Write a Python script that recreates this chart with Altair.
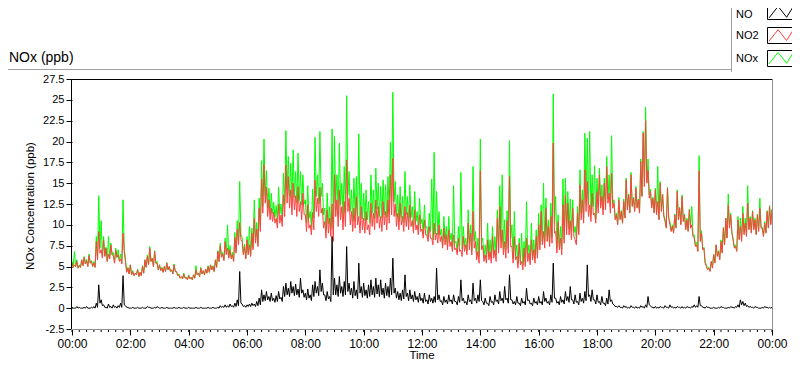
import altair as alt
import pandas as pd

# ------------- data: 5-minute readings (upper edge of the noisy band) -------------
# plus the lower edge of the band read 2.5 minutes later
minutes = list(range(0, 1441, 5))

no2_hi = [
    5.5, 5.2, 5.6, 5.1, 5.8, 6.1, 5.7, 6.3, 5.6, 5.4, 8.0, 9.2,
    7.0, 8.2, 7.2, 6.5, 7.6, 6.3, 7.0, 6.4, 5.9, 9.0, 5.5, 4.8,
    5.2, 4.4, 4.2, 4.6, 4.3, 5.0, 5.8, 6.2, 7.2, 6.0, 6.8, 5.4,
    5.2, 4.8, 5.0, 5.4, 5.0, 4.6, 5.2, 4.4, 4.0, 3.8, 4.1, 3.7,
    3.9, 3.7, 4.0, 4.6, 4.2, 4.8, 4.5, 4.7, 5.0, 5.2, 5.0, 5.8,
    6.8, 7.5, 6.5, 8.0, 7.2, 7.0, 6.4, 8.5, 9.5, 10.3, 8.0, 7.4,
    8.2, 7.6, 9.0, 10.8, 9.5, 12.0, 15.5, 17.2, 14.5, 13.0, 12.0, 11.5,
    10.8, 12.5, 11.2, 13.6, 17.2, 15.8, 14.2, 15.0, 13.5, 14.6, 12.8, 13.8,
    11.2, 12.4, 10.0, 11.5, 15.4, 13.2, 14.5, 12.0, 10.4, 11.8, 10.8, 12.5,
    16.0, 13.0, 14.2, 12.2, 12.8, 17.8, 13.2, 11.6, 12.0, 13.4, 11.0, 12.2,
    10.8, 11.6, 10.0, 12.6, 11.4, 13.0, 12.2, 11.0, 12.8, 11.6, 13.0, 16.0,
    18.0, 12.5, 11.4, 12.6, 11.0, 12.2, 11.5, 12.4, 10.5, 11.8, 10.0, 11.2,
    9.5, 10.6, 8.8, 9.8, 8.4, 10.2, 9.0, 10.0, 8.6, 9.6, 8.8, 9.4,
    8.0, 8.8, 7.2, 8.4, 7.0, 8.6, 7.6, 10.2, 9.0, 11.6, 8.0, 6.8,
    16.5, 7.5, 6.4, 8.2, 6.8, 8.6, 7.0, 10.8, 12.2, 9.4, 8.0, 10.5,
    15.8, 7.4, 8.6, 6.2, 7.8, 5.6, 7.2, 8.4, 6.6, 8.2, 7.0, 8.6,
    10.0, 11.6, 9.2, 12.0, 9.8, 11.0, 19.8, 9.2, 10.4, 8.4, 12.4, 13.6,
    12.6, 10.5, 12.0, 8.2, 11.4, 14.8, 13.0, 16.6, 15.2, 12.4, 13.8, 11.4,
    14.0, 16.0, 13.4, 15.0, 17.0, 13.8, 16.2, 12.6, 11.2, 13.0, 11.6, 12.8,
    15.4, 13.6, 16.0, 13.2, 14.4, 13.0, 17.6, 21.0, 22.5, 16.5, 14.0, 13.2,
    14.2, 12.8, 15.0, 13.6, 10.4, 14.4, 10.0, 9.8, 11.2, 14.0, 12.0, 13.4,
    11.2, 10.6, 11.8, 10.0, 8.4, 7.6, 16.5, 9.0, 7.2, 5.0, 4.8, 5.6,
    6.4, 7.6, 6.8, 8.0, 9.6, 10.8, 12.4, 11.2, 8.2, 7.4, 10.6, 9.8,
    11.4, 10.2, 12.6, 10.8, 11.6, 10.6, 11.2, 12.0, 9.6, 10.2, 11.6, 12.2,
    11.8,
]
no2_lo = [
    4.9, 5.0, 4.8, 4.9, 5.1, 5.3, 5.0, 5.4, 5.0, 4.9, 5.8, 6.6,
    6.0, 6.2, 5.6, 5.9, 6.4, 5.4, 6.1, 5.6, 5.3, 6.8, 4.3, 4.1,
    4.0, 3.9, 4.0, 3.8, 3.9, 4.2, 4.9, 5.2, 5.6, 5.0, 5.4, 4.6,
    4.5, 4.3, 4.4, 4.6, 4.4, 4.1, 4.4, 3.9, 3.6, 3.5, 3.6, 3.4,
    3.5, 3.4, 3.6, 4.0, 3.8, 4.1, 4.0, 4.2, 4.3, 4.6, 4.4, 4.9,
    5.6, 6.1, 5.7, 6.4, 6.0, 5.9, 5.6, 6.6, 7.6, 8.2, 6.4, 5.9,
    6.4, 6.2, 7.0, 7.8, 7.4, 9.2, 11.4, 12.6, 11.0, 10.6, 10.4, 10.2,
    9.6, 10.2, 9.8, 11.0, 12.6, 12.0, 11.2, 11.8, 11.0, 11.6, 10.6, 11.2,
    9.2, 9.6, 8.8, 9.4, 11.6, 11.0, 11.4, 9.6, 8.4, 9.0, 8.6, 8.0,
    11.0, 9.8, 10.6, 9.4, 9.8, 11.6, 10.0, 9.2, 9.6, 10.0, 9.0, 9.4,
    9.0, 9.4, 8.8, 9.8, 9.4, 10.2, 9.6, 9.2, 10.0, 9.4, 10.2, 11.2,
    11.0, 9.8, 9.4, 10.0, 9.2, 9.8, 9.4, 9.8, 9.0, 9.4, 8.8, 9.2,
    8.4, 8.8, 8.0, 8.4, 7.6, 8.2, 7.8, 8.0, 7.2, 7.6, 7.0, 7.4,
    6.8, 7.0, 6.4, 6.8, 6.2, 6.8, 6.4, 7.0, 6.4, 7.2, 5.8, 5.4,
    7.0, 5.6, 5.4, 5.8, 5.4, 6.0, 5.6, 6.6, 7.2, 6.4, 6.0, 6.6,
    7.4, 5.4, 5.8, 4.8, 5.2, 4.6, 5.0, 5.6, 5.2, 5.8, 5.4, 6.0,
    7.0, 7.6, 7.2, 8.0, 7.4, 7.8, 9.0, 6.6, 7.0, 6.4, 7.8, 8.8,
    8.8, 8.2, 8.6, 7.6, 8.8, 10.6, 10.2, 11.6, 11.0, 10.4, 11.2, 10.2,
    11.4, 12.0, 11.2, 11.8, 12.6, 11.4, 12.0, 10.6, 10.0, 10.6, 10.2, 10.8,
    11.8, 11.4, 12.2, 11.6, 12.0, 11.4, 13.4, 14.6, 15.0, 13.2, 12.0, 11.4,
    11.2, 10.6, 11.6, 11.0, 9.6, 10.8, 9.2, 9.0, 9.6, 10.6, 10.0, 10.4,
    9.4, 9.2, 9.6, 8.6, 7.4, 6.8, 8.0, 7.0, 5.4, 4.6, 4.4, 4.8,
    5.4, 6.2, 5.8, 6.6, 7.6, 8.4, 9.6, 9.0, 7.2, 6.8, 8.2, 8.0,
    8.8, 8.6, 9.4, 9.0, 9.4, 8.8, 9.2, 9.6, 8.6, 9.0, 9.6, 10.0,
]

no_hi = [
    0.1, 0.0, 0.2, 0.1, 0.0, 0.1, 0.2, 0.0, 0.1, 0.2, 0.6, 2.8,
    1.0, 0.4, 0.1, 0.5, 0.2, 0.4, 0.2, 0.3, 0.6, 3.9, 0.3, 0.1,
    0.0, 0.1, 0.0, 0.1, 0.0, 0.1, 0.0, 0.2, 0.1, 0.0, 0.1, 0.2,
    0.0, 0.1, 0.0, 0.1, 0.0, 0.0, 0.1, 0.0, 0.1, 0.0, 0.1, 0.0,
    0.1, 0.0, 0.0, 0.1, 0.0, 0.1, 0.0, 0.0, 0.1, 0.0, 0.1, 0.0,
    0.1, 0.3, 0.2, 0.4, 0.3, 0.5, 0.3, 0.6, 1.0, 4.4, 0.5, 0.3,
    0.4, 0.5, 0.6, 0.5, 0.8, 1.2, 2.2, 1.6, 2.0, 1.4, 1.8, 1.2,
    1.5, 2.0, 1.3, 2.6, 3.0, 2.4, 3.2, 2.6, 2.9, 2.3, 3.6, 2.2,
    1.8, 2.3, 1.6, 2.8, 3.2, 2.6, 4.6, 3.0, 1.6, 2.0, 1.4, 8.6,
    3.6, 2.8, 3.8, 2.6, 3.2, 7.4, 3.0, 2.4, 3.2, 2.2, 5.4, 2.6,
    3.0, 2.2, 2.8, 3.4, 2.6, 3.6, 2.8, 3.4, 2.4, 3.0, 2.6, 3.6,
    6.0, 2.4, 2.0, 1.8, 2.2, 4.0, 1.8, 2.2, 1.6, 2.0, 1.4, 1.8,
    1.2, 1.8, 1.0, 1.6, 1.2, 1.4, 4.8, 1.6, 0.9, 1.4, 1.0, 1.6,
    1.0, 1.6, 0.8, 1.4, 3.4, 1.2, 0.8, 1.6, 1.0, 3.0, 1.2, 1.6,
    3.4, 0.8, 1.2, 0.6, 1.4, 0.8, 1.6, 1.0, 2.0, 1.2, 2.6, 1.2,
    4.0, 1.0, 0.8, 1.4, 0.6, 1.2, 0.8, 2.4, 1.0, 0.6, 1.2, 0.8,
    1.4, 0.8, 2.0, 1.2, 0.8, 1.6, 5.4, 1.2, 0.8, 1.4, 1.0, 2.0,
    1.4, 2.6, 1.0, 1.6, 0.8, 1.8, 1.2, 2.0, 5.2, 1.6, 2.2, 1.0,
    1.6, 0.8, 1.4, 0.6, 1.2, 2.2, 1.0, 0.4, 0.2, 0.3, 0.1, 0.3,
    0.2, 0.1, 0.3, 0.1, 0.2, 0.1, 0.3, 0.2, 0.4, 1.4, 0.3, 0.1,
    0.2, 0.1, 0.2, 0.1, 0.3, 0.1, 0.4, 0.2, 0.1, 0.2, 0.1, 0.2,
    0.1, 0.2, 0.1, 0.2, 0.4, 0.3, 1.4, 0.3, 0.1, 0.2, 0.1, 0.0,
    0.1, 0.0, 0.1, 0.2, 0.1, 0.0, 0.1, 0.2, 0.1, 0.2, 0.4, 1.0,
    0.8, 0.6, 0.3, 0.2, 0.1, 0.2, 0.1, 0.0, 0.1, 0.2, 0.1, 0.1,
    0.1,
]
no_lo = [
    0.0, 0.0, 0.0, 0.0, 0.0, 0.0, 0.0, 0.0, 0.0, 0.0, 0.1, 0.6,
    0.3, 0.1, 0.0, 0.1, 0.0, 0.1, 0.0, 0.1, 0.1, 0.4, 0.1, 0.0,
    0.0, 0.0, 0.0, 0.0, 0.0, 0.0, 0.0, 0.1, 0.0, 0.0, 0.0, 0.1,
    0.0, 0.0, 0.0, 0.0, 0.0, 0.0, 0.0, 0.0, 0.0, 0.0, 0.0, 0.0,
    0.0, 0.0, 0.0, 0.0, 0.0, 0.0, 0.0, 0.0, 0.0, 0.0, 0.0, 0.0,
    0.0, 0.1, 0.1, 0.1, 0.1, 0.2, 0.1, 0.2, 0.3, 0.6, 0.2, 0.1,
    0.2, 0.2, 0.3, 0.2, 0.3, 0.4, 0.8, 0.9, 1.0, 0.8, 0.9, 0.7,
    0.8, 1.1, 0.8, 1.4, 1.6, 1.4, 1.8, 1.5, 1.6, 1.3, 1.8, 1.3,
    1.0, 1.2, 0.9, 1.4, 1.8, 1.5, 2.0, 1.6, 0.9, 1.1, 0.8, 1.6,
    1.6, 1.4, 1.8, 1.4, 1.6, 2.0, 1.6, 1.2, 1.5, 1.1, 1.8, 1.3,
    1.5, 1.2, 1.4, 1.6, 1.3, 1.7, 1.4, 1.6, 1.2, 1.5, 1.3, 1.6,
    1.8, 1.2, 1.0, 0.9, 1.1, 1.4, 0.9, 1.1, 0.8, 1.0, 0.7, 0.9,
    0.6, 0.8, 0.5, 0.8, 0.6, 0.7, 1.0, 0.8, 0.4, 0.7, 0.5, 0.8,
    0.5, 0.8, 0.4, 0.7, 0.9, 0.6, 0.4, 0.8, 0.5, 0.9, 0.6, 0.8,
    0.9, 0.4, 0.6, 0.3, 0.7, 0.4, 0.8, 0.5, 0.9, 0.6, 1.0, 0.6,
    1.0, 0.5, 0.4, 0.6, 0.3, 0.6, 0.4, 0.9, 0.5, 0.3, 0.6, 0.4,
    0.6, 0.4, 0.8, 0.6, 0.4, 0.7, 1.2, 0.6, 0.4, 0.7, 0.5, 0.9,
    0.7, 1.0, 0.5, 0.7, 0.4, 0.8, 0.6, 0.9, 1.4, 0.8, 1.0, 0.5,
    0.7, 0.4, 0.6, 0.3, 0.5, 0.8, 0.5, 0.2, 0.1, 0.1, 0.0, 0.1,
    0.0, 0.0, 0.1, 0.0, 0.0, 0.0, 0.1, 0.0, 0.1, 0.4, 0.1, 0.0,
    0.0, 0.0, 0.1, 0.0, 0.1, 0.0, 0.1, 0.0, 0.0, 0.1, 0.0, 0.0,
    0.0, 0.1, 0.0, 0.1, 0.1, 0.1, 0.3, 0.1, 0.0, 0.1, 0.0, 0.0,
    0.0, 0.0, 0.0, 0.1, 0.0, 0.0, 0.0, 0.1, 0.0, 0.1, 0.1, 0.4,
    0.3, 0.2, 0.1, 0.1, 0.0, 0.1, 0.0, 0.0, 0.0, 0.1, 0.0, 0.0,
]

nox_hi = [
    5.6, 6.8, 5.8, 5.2, 5.8, 6.2, 5.9, 6.5, 5.7, 5.6, 8.6, 13.5,
    10.5, 8.6, 7.3, 8.6, 7.8, 6.7, 7.2, 7.0, 6.5, 13.0, 5.8, 4.9,
    5.2, 4.5, 4.2, 4.7, 4.3, 5.1, 5.8, 6.4, 7.4, 6.0, 6.9, 5.6,
    5.2, 4.9, 5.0, 5.5, 5.0, 4.6, 5.3, 4.4, 4.1, 3.8, 4.2, 3.7,
    4.0, 3.7, 4.0, 5.1, 4.2, 4.9, 4.5, 4.7, 5.1, 5.2, 5.1, 5.8,
    6.9, 7.8, 6.7, 8.4, 10.0, 7.5, 6.7, 9.1, 10.5, 15.2, 8.5, 7.7,
    8.6, 9.8, 9.6, 13.0, 10.3, 13.2, 17.7, 20.3, 16.5, 14.4, 13.8, 12.7,
    12.3, 14.5, 12.5, 16.2, 21.3, 18.2, 17.4, 19.0, 16.4, 18.6, 16.4, 16.0,
    13.0, 14.7, 11.6, 14.3, 20.5, 16.0, 21.2, 15.0, 12.0, 13.8, 12.2, 21.5,
    20.6, 16.0, 19.8, 15.0, 17.0, 25.5, 16.4, 14.2, 15.6, 15.8, 20.9, 15.0,
    13.8, 14.2, 12.8, 16.0, 14.2, 16.8, 15.0, 14.6, 15.4, 14.8, 15.8, 19.9,
    25.9, 15.2, 13.6, 14.6, 13.4, 16.4, 13.4, 14.8, 12.2, 14.0, 11.6, 13.2,
    10.7, 12.4, 9.8, 11.4, 15.5, 18.7, 14.0, 11.6, 9.5, 11.0, 9.8, 11.0,
    9.0, 14.7, 8.0, 9.8, 16.3, 9.8, 8.4, 11.8, 10.0, 17.0, 9.2, 8.4,
    20.3, 8.4, 7.6, 10.2, 8.2, 9.8, 8.6, 11.8, 14.7, 16.0, 10.6, 11.7,
    20.1, 10.0, 11.6, 7.6, 8.4, 9.0, 8.0, 12.8, 7.6, 10.2, 8.2, 9.4,
    11.4, 12.4, 15.0, 13.2, 10.6, 12.6, 25.7, 13.4, 11.2, 9.8, 15.5, 15.6,
    14.0, 13.1, 13.0, 9.8, 12.2, 16.6, 14.2, 21.0, 20.4, 21.2, 16.0, 17.1,
    15.6, 16.8, 14.8, 15.6, 18.2, 16.0, 20.7, 13.0, 11.4, 13.3, 11.7, 13.1,
    15.6, 13.7, 16.3, 13.3, 14.6, 13.1, 17.9, 21.2, 24.1, 17.9, 14.3, 13.3,
    14.4, 17.0, 15.2, 13.7, 10.7, 14.5, 10.4, 10.0, 11.3, 14.2, 12.1, 13.6,
    11.3, 10.8, 11.9, 12.2, 8.8, 7.9, 18.3, 9.3, 7.3, 5.2, 4.9, 5.6,
    6.5, 7.6, 6.9, 8.2, 9.7, 10.8, 13.7, 11.4, 8.3, 7.6, 11.0, 10.8,
    12.2, 10.8, 14.7, 11.0, 11.7, 10.8, 11.3, 13.2, 9.7, 10.4, 11.7, 12.3,
    11.9,
]
nox_lo = [
    4.9, 5.0, 4.8, 4.9, 5.1, 5.3, 5.0, 5.4, 5.0, 4.9, 5.9, 7.2,
    6.3, 6.3, 5.6, 6.0, 6.4, 5.5, 6.1, 5.7, 5.4, 7.2, 4.4, 4.1,
    4.0, 3.9, 4.0, 3.8, 3.9, 4.2, 4.9, 5.2, 5.6, 5.0, 5.4, 4.6,
    4.5, 4.3, 4.4, 4.6, 4.4, 4.1, 4.4, 3.9, 3.6, 3.5, 3.6, 3.4,
    3.5, 3.4, 3.6, 4.0, 3.8, 4.1, 4.0, 4.2, 4.3, 4.6, 4.4, 4.9,
    5.6, 6.2, 5.8, 6.5, 6.1, 6.1, 5.7, 6.8, 7.9, 8.8, 6.6, 6.0,
    6.6, 6.4, 7.3, 8.0, 7.7, 9.6, 12.2, 13.5, 12.0, 11.4, 11.3, 10.9,
    10.4, 11.3, 10.6, 12.4, 14.2, 13.4, 13.0, 13.3, 12.6, 12.9, 12.4, 12.5,
    10.2, 10.8, 9.7, 10.8, 13.4, 12.5, 13.4, 11.2, 9.3, 10.1, 9.4, 9.6,
    12.6, 11.2, 12.4, 10.8, 11.4, 13.6, 11.6, 10.4, 11.1, 11.1, 10.8, 10.7,
    10.5, 10.6, 10.2, 11.4, 10.7, 11.9, 11.0, 10.8, 11.2, 10.9, 11.5, 12.8,
    12.8, 11.0, 10.4, 10.9, 10.3, 11.2, 10.3, 10.9, 9.8, 10.4, 9.5, 10.1,
    9.0, 9.6, 8.5, 9.2, 8.2, 8.9, 8.8, 8.8, 7.6, 8.3, 7.5, 8.2,
    7.3, 7.8, 6.8, 7.5, 7.1, 7.4, 6.8, 7.8, 6.9, 8.1, 6.4, 6.2,
    7.9, 6.0, 6.0, 6.1, 6.1, 6.4, 6.4, 7.1, 8.1, 7.0, 7.0, 7.2,
    8.4, 5.9, 6.2, 5.4, 5.5, 5.2, 5.4, 6.5, 5.7, 6.1, 6.0, 6.4,
    7.6, 8.0, 8.0, 8.6, 7.8, 8.5, 10.2, 7.2, 7.4, 7.1, 8.3, 9.7,
    9.5, 9.2, 9.1, 8.3, 9.2, 11.4, 10.8, 12.5, 12.4, 11.2, 12.2, 10.7,
    12.1, 12.4, 11.8, 12.1, 13.1, 12.2, 12.5, 10.8, 10.1, 10.7, 10.2, 10.9,
    11.9, 11.5, 12.3, 11.7, 12.1, 11.5, 13.5, 14.7, 15.1, 13.6, 12.1, 11.5,
    11.3, 10.7, 11.7, 11.1, 9.7, 10.9, 9.3, 9.1, 9.7, 10.7, 10.1, 10.5,
    9.5, 9.3, 9.7, 8.7, 7.5, 6.9, 8.3, 7.1, 5.5, 4.7, 4.5, 4.9,
    5.5, 6.3, 5.9, 6.7, 7.7, 8.5, 9.7, 9.1, 7.3, 6.9, 8.3, 8.4,
    9.1, 8.8, 9.5, 9.1, 9.5, 8.9, 9.3, 9.7, 8.7, 9.1, 9.7, 10.1,
]

series_names = ["NO", "NO2", "NOx"]
series_colors = ["#000000", "#ff4040", "#00ff00"]
x_tick_hours = list(range(0, 25, 2))
minor_tick_minutes = list(range(0, 1441, 15))
y_tick_values = [-2.5, 0, 2.5, 5, 7.5, 10, 12.5, 15, 17.5, 20, 22.5, 25, 27.5]

chart_title = "NOx (ppb)"
y_title = "NOx Concentration (ppb)"
x_title = "Time"

# ------------- assemble the samples: reading at t, trough at t + 2.5 min -------------
rows = {"hour": [], "NO": [], "NO2": [], "NOx": []}
for i, m in enumerate(minutes):
    rows["hour"].append(m / 60)
    rows["NO"].append(no_hi[i])
    rows["NO2"].append(no2_hi[i])
    rows["NOx"].append(nox_hi[i])
    if i < len(no2_lo):
        rows["hour"].append((m + 2.5) / 60)
        rows["NO"].append(no_lo[i])
        rows["NO2"].append(no2_lo[i])
        rows["NOx"].append(nox_lo[i])
df = pd.DataFrame(rows)
minor_df = pd.DataFrame({"hour": [m / 60 for m in minor_tick_minutes]})
one = pd.DataFrame({"k": [0]})

# ------------- chart -------------
FONT = "Liberation Sans"
W, H = 700, 250

xscale = alt.Scale(domain=[0, 24], nice=False, zero=False)
yscale = alt.Scale(domain=[-2.5, 27.5], nice=False, zero=False)

x_axis = alt.Axis(
    values=x_tick_hours,
    labelExpr="(datum.value % 24 < 10 ? '0' : '') + (datum.value % 24) + ':00'",
    title=None, domain=False, grid=False, tickSize=6, tickColor="black",
    labelFont=FONT, labelFontSize=12, labelColor="black", labelPadding=3,
    labelFlush=False, labelOverlap=False, labelBound=False,
)
y_axis = alt.Axis(
    values=y_tick_values, labelExpr="'' + datum.value",
    title=None, domain=False, grid=False, tickSize=6, tickColor="black",
    labelFont=FONT, labelFontSize=11, labelColor="black", labelPadding=2,
    labelFlush=False, labelOverlap=False, labelBound=False,
)
x_enc = alt.X("hour:Q", scale=xscale, axis=x_axis)

colors = dict(zip(series_names, series_colors))
line_layers = [
    alt.Chart(df).mark_line(color=colors[name], strokeWidth=1).encode(
        x=x_enc, y=alt.Y(f"{name}:Q", scale=yscale, axis=y_axis)
    )
    for name in ["NOx", "NO2", "NO"]
]

minor_ticks = alt.Chart(minor_df).mark_rule(color="black", strokeWidth=1).encode(
    x=x_enc, y=alt.value(H), y2=alt.value(H + 3)
)


def hrule(x1, x2, y, color):
    return alt.Chart(one).mark_rule(color=color, strokeWidth=1).encode(
        x=alt.value(x1), x2=alt.value(x2), y=alt.value(y)
    )


def vrule(x, y1, y2, color):
    return alt.Chart(one).mark_rule(color=color, strokeWidth=1).encode(
        x=alt.value(x), y=alt.value(y1), y2=alt.value(y2)
    )


def text(label, x, y, size, align="left", angle=0):
    return alt.Chart(one).mark_text(
        text=label, font=FONT, fontSize=size, align=align, baseline="middle",
        angle=angle, color="black",
    ).encode(x=alt.value(x), y=alt.value(y))


GRAY = "#a0a0a0"
decor = [
    hrule(-64, 659.5, -9.5, GRAY),          # panel top edge
    hrule(-1, 700, 0.5, "black"),           # plot frame
    vrule(-0.5, 0, 251, "black"),
    vrule(700.5, 0, 251, "#909090"),
    hrule(-1, 701, 250.5, "#909090"),
    text(chart_title, -63, -21, 14),
    text(y_title, -41, 127, 11.5, align="center", angle=270),
    text(x_title, 350, 277, 11.5, align="center"),
    vrule(659.5, -79, -7, GRAY),            # legend edge
]

legend_y_text = [-64.5, -43, -20]
legend_box_y = [(-75.5, -59.5), (-51.5, -35.5), (-28.5, -12.5)]
legend_icon_y = [-67.0, -43.7, -21]
zigzag = "M-1,0.47L-0.27,-0.45L0.41,0.42L1,-0.53"
for i, name in enumerate(series_names):
    decor.append(text(name, 664, legend_y_text[i], 11))
    y1, y2 = legend_box_y[i]
    decor.append(
        alt.Chart(one).mark_rect(fill="white", stroke="#000000", strokeWidth=1).encode(
            x=alt.value(695.5), x2=alt.value(724.5), y=alt.value(y1), y2=alt.value(y2)
        )
    )
    decor.append(
        alt.Chart(one).mark_point(
            shape=zigzag, size=625, filled=False, stroke=series_colors[i],
            strokeWidth=1, opacity=1,
        ).encode(x=alt.value(709.5), y=alt.value(legend_icon_y[i]))
    )

chart = alt.layer(*line_layers, minor_ticks, *decor).properties(
    width=W,
    height=H,
    autosize=alt.AutoSizeParams(type="none"),
    padding={"left": 64, "top": 71, "right": 20, "bottom": 32},
    background="white",
).configure_view(stroke=None)

chart.save("out.html", embed_options={"renderer": "svg", "actions": False})
